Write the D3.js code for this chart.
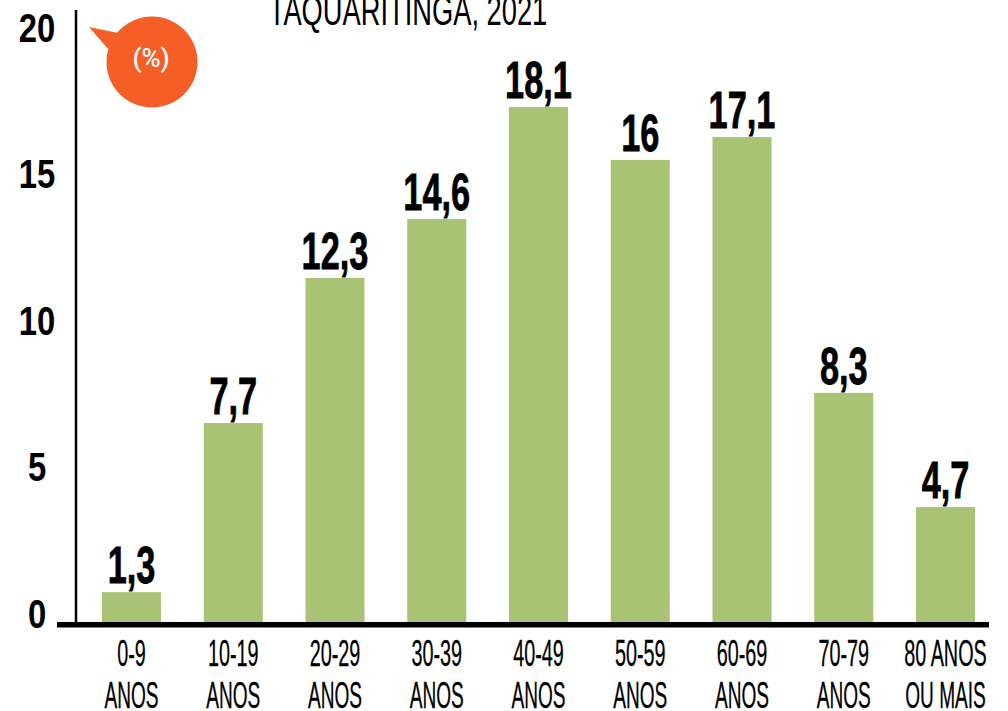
<!DOCTYPE html>
<html>
<head>
<meta charset="utf-8">
<script src="https://cdn.jsdelivr.net/npm/d3@7"></script>
<style>
  html, body { margin: 0; padding: 0; background: #fff; overflow: hidden; }
  text { font-family: "Liberation Sans Narrow", "Liberation Sans", sans-serif; fill: #000; }
</style>
</head>
<body>
<div id="chart"></div>
<script>
// Dados
const categories = ["0-9", "10-19", "20-29", "30-39", "40-49", "50-59", "60-69", "70-79", "80 ANOS"];
const categories2 = ["ANOS", "ANOS", "ANOS", "ANOS", "ANOS", "ANOS", "ANOS", "ANOS", "OU MAIS"];
// os rótulos impressos e a altura desenhada das barras não coincidem na original
const valueLabels = ["1,3", "7,7", "12,3", "14,6", "18,1", "16", "17,1", "8,3", "4,7"];
const barValues = [1.02, 6.79, 11.74, 13.75, 17.58, 15.77, 16.55, 7.82, 3.92];
const yTicks = [0, 5, 10, 15, 20];

const width = 1008, height = 711;

const svg = d3.select("#chart").append("svg")
    .attr("width", width)
    .attr("height", height)
    .style("display", "block");

const xScale = d3.scaleBand()
    .domain(categories)
    .range([102, 975])
    .paddingInner(0.42)
    .paddingOuter(0);

const yScale = d3.scaleLinear()
    .domain([0, 20])
    .range([622, 36]);

// Título (cortado no topo, como na original)
svg.append("text")
    .attr("transform", "translate(408,25) scale(0.65,1)")
    .attr("text-anchor", "middle")
    .style("font-size", "42px")
    .text("TAQUARITINGA, 2021");

// Barras
svg.selectAll(".bar")
    .data(barValues)
    .enter().append("rect")
    .attr("class", "bar")
    .attr("x", (d, i) => xScale(categories[i]))
    .attr("y", d => yScale(d))
    .attr("width", xScale.bandwidth())
    .attr("height", d => yScale(0) - yScale(d))
    .attr("fill", "#a7c373");

// Rótulos de valor
svg.selectAll(".value")
    .data(valueLabels)
    .enter().append("text")
    .attr("class", "value")
    .attr("transform", (d, i) => `translate(${xScale(categories[i]) + xScale.bandwidth() / 2},${yScale(barValues[i]) - 9}) scale(0.66,1)`)
    .attr("text-anchor", "middle")
    .style("font-size", "52px")
    .style("font-weight", "bold")
    .style("stroke", "#000")
    .style("stroke-width", "0.8px")
    .text(d => d);

// Eixo Y
const yAxis = svg.append("g")
    .attr("transform", "translate(76,0)")
    .call(d3.axisLeft(yScale).tickValues(yTicks).tickSize(0).tickFormat(d => d));
yAxis.select(".domain").remove();
yAxis.selectAll("text")
    .attr("x", null).attr("y", null).attr("dy", null)
    .attr("text-anchor", "middle")
    .attr("transform", "translate(-39,5) scale(0.8,1)")
    .style("font-size", "41px")
    .style("font-weight", "bold")
    .style("font-family", "'Liberation Sans Narrow', sans-serif");

svg.append("line")
    .attr("x1", 76).attr("x2", 76)
    .attr("y1", 10).attr("y2", yScale(0))
    .attr("stroke", "#000")
    .attr("stroke-width", 2.5);

// Eixo X
svg.append("rect")
    .attr("x", 57).attr("y", yScale(0))
    .attr("width", 932).attr("height", 5.5)
    .attr("fill", "#000");

const xLabels = svg.selectAll(".xlabel")
    .data(categories)
    .enter().append("g")
    .attr("class", "xlabel")
    .attr("transform", d => `translate(${xScale(d) + xScale.bandwidth() / 2},0)`);

xLabels.append("text")
    .attr("transform", "translate(0,666) scale(0.55,1)")
    .attr("text-anchor", "middle")
    .style("font-size", "36px")
    .style("stroke", "#000")
    .style("stroke-width", "0.3px")
    .text(d => d);

xLabels.append("text")
    .attr("transform", "translate(0,708) scale(0.53,1)")
    .attr("text-anchor", "middle")
    .style("font-size", "36px")
    .style("stroke", "#000")
    .style("stroke-width", "0.3px")
    .text((d, i) => categories2[i]);

// Balão (%)
svg.append("path")
    .attr("d", "M89,27 L118,33 L108,49 Z")
    .attr("fill", "#f55e26");
svg.append("circle")
    .attr("cx", 152).attr("cy", 62).attr("r", 45.5)
    .attr("fill", "#f55e26");
svg.append("text")
    .attr("x", 151).attr("y", 67)
    .attr("text-anchor", "middle")
    .style("font-family", "Roboto, sans-serif")
    .style("font-size", "26px")
    .style("font-weight", "500")
    .style("fill", "#fff")
    .text("(%)");
</script>
</body>
</html>
